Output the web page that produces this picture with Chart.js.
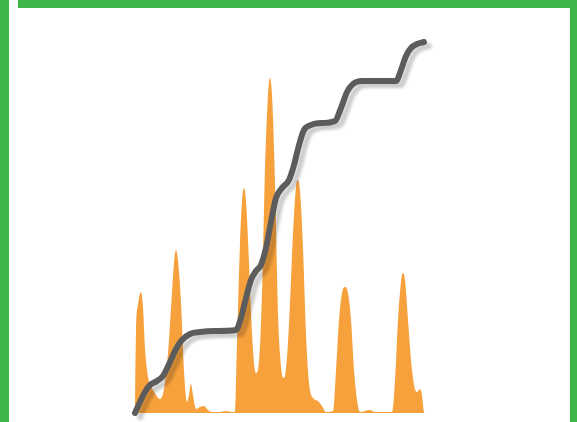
<!DOCTYPE html>
<html>
<head>
<meta charset="utf-8">
<script src="https://cdn.jsdelivr.net/npm/chart.js@4"></script>
<style>
  html, body { margin: 0; padding: 0; background: #fff; }
  #wrap { position: relative; width: 577px; height: 422px; overflow: hidden; background: #fff; }
  .g { position: absolute; background: #3cb54a; }
  #myChart { position: absolute; left: 0; top: 0; }
</style>
</head>
<body>
<div id="wrap">
  <div class="g" style="left:0;top:0;width:9px;height:422px"></div>
  <div class="g" style="left:18px;top:0;width:559px;height:8px"></div>
  <div class="g" style="left:570px;top:0;width:7px;height:422px"></div>
  <canvas id="myChart" width="577" height="422"></canvas>
</div>
<script>
// daily volume (orange area)
const volX = [0, 1, 3, 6, 8, 10, 13, 17, 21, 25, 29, 33, 36, 39, 41, 43, 46, 49, 52, 54,
  56, 58, 61, 65, 69, 73, 77, 85, 91, 97, 100, 102, 105, 107, 109, 111, 114, 117, 121, 124,
  127, 130, 133, 135, 137, 140, 143, 146, 149, 152, 155, 158, 161, 163, 165, 168, 171, 174, 178, 183,
  187, 191, 198, 201, 204, 207, 210, 213, 216, 219, 222, 225, 235, 240, 250, 257, 260, 263, 266, 268,
  270, 273, 276, 279, 282, 285, 287, 289, 290];
const volY = [0, 80, 108, 121, 106, 65, 36, 25, 18, 14, 24, 60, 105, 150, 163, 152, 110, 42, 11, 18,
  29, 18, 4, 6, 7, 3, 1, 1, 2, 1, 1, 70, 170, 212, 225, 212, 150, 80, 40, 52,
  120, 245, 318, 335, 318, 230, 100, 46, 35, 56, 110, 180, 226, 233, 222, 165, 78, 30, 15, 12,
  7, 1, 2, 43, 93, 120, 126, 120, 93, 43, 13, 1, 3, 1, 1, 1, 33, 93, 131, 140,
  133, 93, 53, 28, 21, 24, 18, 1, 0];

// running total (dark line)
const totalX = [0, 5, 10, 15, 22, 28, 35, 41, 47, 55, 65, 80, 101, 106, 111, 116, 121, 126, 131, 136,
  141, 147, 154, 159, 164, 169, 176, 187, 200, 206, 212, 218, 227, 245, 261, 266, 271, 276, 282, 289];
const totalY = [0, 11, 21, 28, 32, 37, 51, 64, 73, 79, 81, 82, 83, 95, 115, 133, 142, 148, 165, 191,
  215, 225, 233, 248, 268, 283, 288, 290, 292, 305, 321, 329, 332, 332, 332, 343, 357, 365, 369, 371];

function pts(xs, ys) {
  return xs.map((x, i) => ({ x: x, y: ys[i] }));
}

const shadowPlugin = {
  id: 'shadow',
  beforeDatasetDraw(chart, args) {
    const ctx = chart.ctx;
    ctx.save();
    if (args.index === 0) {
      ctx.shadowColor = 'rgba(0,0,0,0.2)';
      ctx.shadowBlur = 3;
      ctx.shadowOffsetX = 5;
      ctx.shadowOffsetY = 4;
    } else {
      ctx.shadowColor = 'rgba(247,160,60,0.25)';
      ctx.shadowBlur = 2;
      ctx.shadowOffsetX = 2;
      ctx.shadowOffsetY = 1;
    }
  },
  afterDatasetDraw(chart) {
    chart.ctx.restore();
  }
};

const ctx = document.getElementById('myChart').getContext('2d');
const myChart = new Chart(ctx, {
  type: 'line',
  data: {
    datasets: [{
      label: 'Total',
      data: pts(totalX, totalY),
      borderColor: '#5c5c5c',
      borderWidth: 6,
      borderCapStyle: 'round',
      pointRadius: 0,
      fill: false,
      cubicInterpolationMode: 'monotone',
      clip: false,
      order: 0
    }, {
      label: 'Volume',
      data: pts(volX, volY),
      borderWidth: 0,
      backgroundColor: '#f7a13c',
      pointRadius: 0,
      fill: 'origin',
      cubicInterpolationMode: 'monotone',
      order: 1
    }]
  },
  options: {
    responsive: false,
    animation: false,
    devicePixelRatio: 1,
    layout: { padding: { left: 135, right: 152, top: 30, bottom: 9 } },
    plugins: { legend: { display: false }, tooltip: { enabled: false } },
    scales: {
      x: { type: 'linear', min: 0, max: 290, display: false },
      y: { min: 0, max: 383, display: false }
    }
  },
  plugins: [shadowPlugin]
});
</script>
</body>
</html>
